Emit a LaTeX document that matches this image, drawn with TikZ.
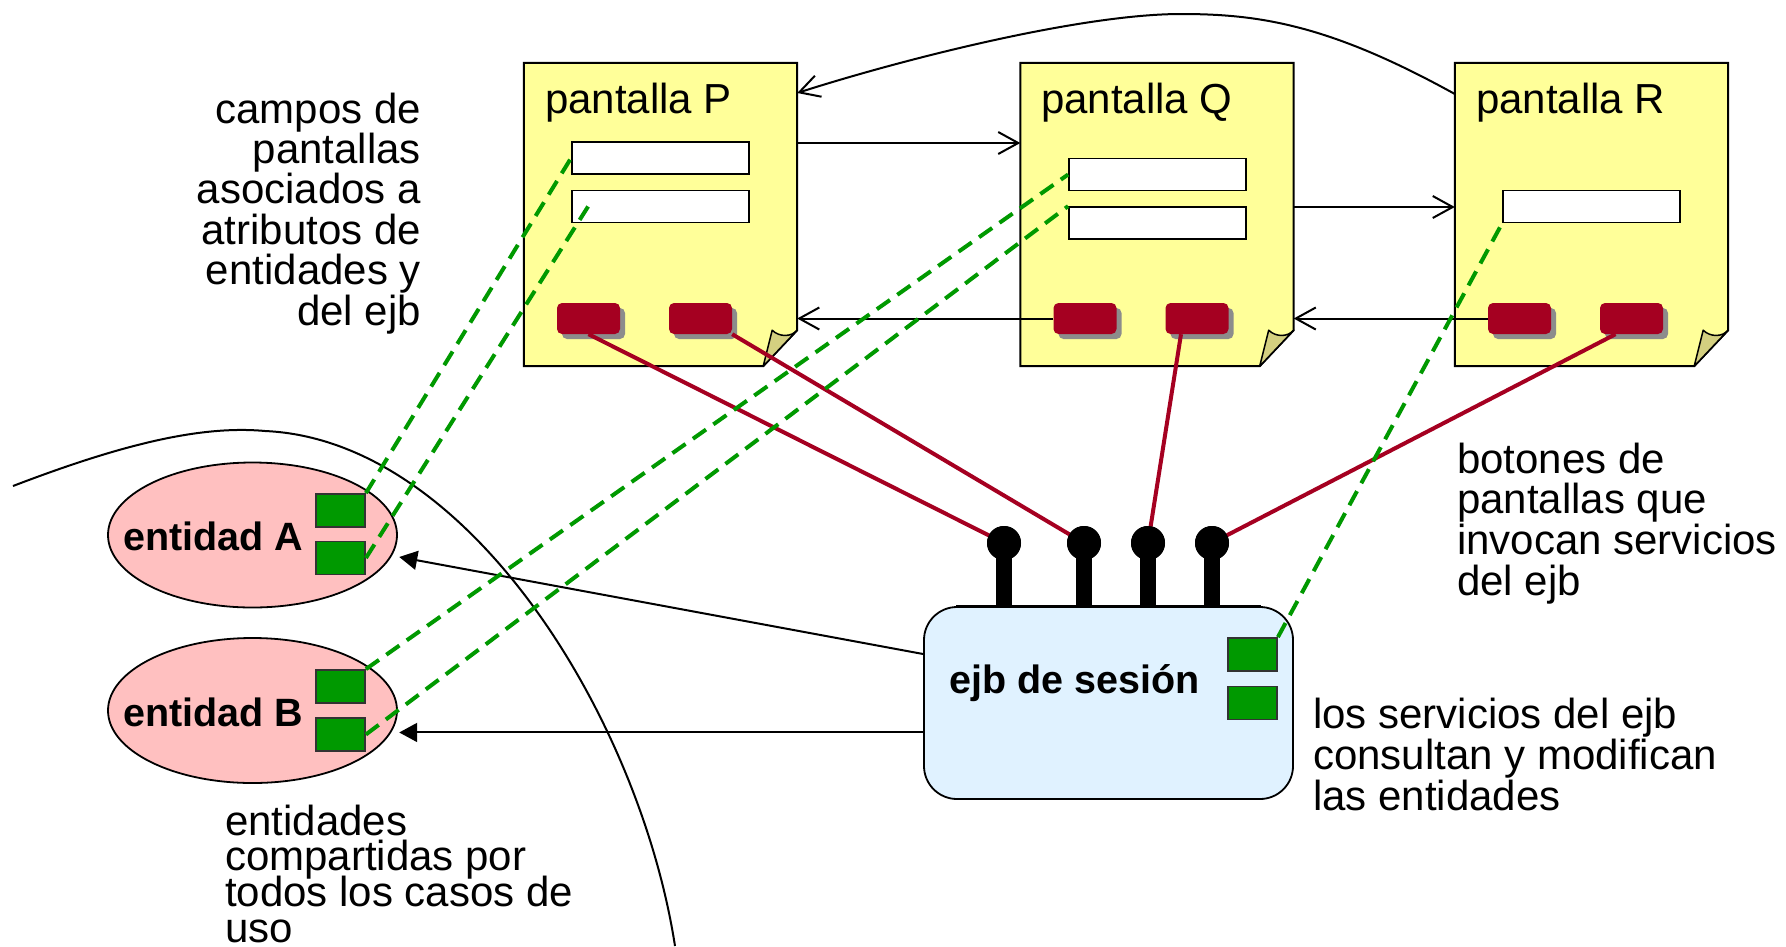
\documentclass[tikz,border=0pt]{standalone}
\usepackage{fontspec}
\setmainfont{Liberation Sans}
\usetikzlibrary{arrows.meta,shadows,shapes.geometric,calc}

\definecolor{notey}{HTML}{FFFF99}
\definecolor{notefold}{HTML}{D4D080}
\definecolor{btnred}{HTML}{A50021}
\definecolor{attrg}{HTML}{009900}
\definecolor{entpink}{HTML}{FFC0C0}
\definecolor{ejbblue}{HTML}{E0F2FF}

% stacked lines with a fixed baseline distance; the box baseline is the first line
\newcommand\rlines[2]{\vtop{\baselineskip=#1\lineskiplimit=-100pt\halign{\hfil##\cr#2\crcr}}}
\newcommand\llines[2]{\vtop{\baselineskip=#1\lineskiplimit=-100pt\halign{##\hfil\cr#2\crcr}}}

\begin{document}
\begin{tikzpicture}[x=1pt,y=-1pt,
  txt/.style={font=\fontsize{42}{42}\selectfont, inner sep=0pt},
  btxt/.style={font=\fontsize{39.5}{40}\selectfont\bfseries, inner sep=0pt},
  screen/.style={minimum width=273pt, minimum height=303pt, inner sep=0pt},
  field/.style={draw=black, line width=1.8pt, fill=white, minimum width=177pt, minimum height=32pt, inner sep=0pt},
  button/.style={fill=btnred, rounded corners=5pt, minimum width=63pt, minimum height=31pt, inner sep=0pt,
    general shadow={shadow xshift=5pt, shadow yshift=-5pt, fill=black!45}},
  attr/.style={draw=black!80, line width=1.8pt, fill=attrg, minimum width=49pt, minimum height=33pt, inner sep=0pt},
  entity/.style={ellipse, draw=black, line width=1.8pt, fill=entpink, minimum width=289pt, minimum height=145pt, inner sep=0pt},
  ejbbox/.style={rectangle, rounded corners=33pt, draw=black, line width=1.8pt, fill=ejbblue, minimum width=369pt, minimum height=192pt, inner sep=0pt},
  knob/.style={circle, fill=black, minimum size=34pt, inner sep=0pt},
  nav/.style={line width=2pt, -{Straight Barb[length=20pt, width=22pt, line width=2pt]}},
  uses/.style={line width=2pt, -{Triangle[length=18pt, width=19pt]}},
  call/.style={btnred, line width=4pt},
  bind/.style={attrg, line width=4pt, dash pattern=on 16pt off 9pt},
]
\useasboundingbox[fill=white] (0,0) rectangle (1786,946);

% boundary of the shared part
\draw[line width=2pt] (13,486) .. controls (120,445) and (200,425) .. (265,431)
  .. controls (470,440) and (640,720) .. (675,946);

% screens with a folded corner
\node[screen] (P) at (660.5,214.5) {};
\node[screen] (Q) at (1157,214.5) {};
\node[screen] (R) at (1591.5,214.5) {};
\foreach \n in {P,Q,R} {
  \filldraw[fill=notey, draw=black, line width=2pt]
    (\n.north west) -- (\n.north east) -- ([yshift=36pt]\n.south east)
    -- ([xshift=-34pt]\n.south east) -- (\n.south west) -- cycle;
  \filldraw[fill=notefold, draw=black, line width=1.5pt, line join=round]
    ([xshift=-34pt]\n.south east) -- ([xshift=-25pt,yshift=36pt]\n.south east)
    .. controls ([xshift=-18pt,yshift=29pt]\n.south east) and ([xshift=-6pt,yshift=29pt]\n.south east)
    .. ([yshift=36pt]\n.south east) -- cycle;
}
\node[txt, anchor=base west] (Pt) at (545,113) {pantalla P};
\node[txt, anchor=base west] (Qt) at (1041,113) {pantalla Q};
\node[txt, anchor=base west] (Rt) at (1476,113) {pantalla R};

% input fields
\node[field] (pf1) at (660.5,158) {};
\node[field] (pf2) at (660.5,206.5) {};
\node[field] (qf1) at (1157.5,174.5) {};
\node[field] (qf2) at (1157.5,223) {};
\node[field] (rf) at (1591.5,206.5) {};

% navigation between screens
\draw[nav] ([yshift=71.5pt]P.east) -- ([yshift=71.5pt]Q.west);
\draw[nav] ([yshift=7.5pt]Q.east) -- ([yshift=7.5pt]R.west);
\draw[nav] ([yshift=120.5pt]R.west) .. controls (1330,25) and (1260,14) .. (1181,14)
  .. controls (1080,14) and (900,60) .. ([yshift=121.5pt]P.east);

% buttons
\node[button] (pb1) at (588.5,318.5) {};
\node[button] (pb2) at (700.5,318.5) {};
\node[button] (qb1) at (1085,318.5) {};
\node[button] (qb2) at (1197,318.5) {};
\node[button] (rb1) at (1519.5,318.5) {};
\node[button] (rb2) at (1631.5,318.5) {};
\draw[nav] (qb1.west) -- (P.east |- qb1.west);
\draw[nav] (rb1.west) -- (Q.east |- rb1.west);

% session bean with its service knobs
\node[knob] (k1) at (1004,543) {};
\node[knob] (k2) at (1084,543) {};
\node[knob] (k3) at (1148,543) {};
\node[knob] (k4) at (1212,543) {};
\draw[call] (pb1.south) -- (k1.center);
\draw[call] (pb2.south east) -- (k2.center);
\draw[call] ([xshift=-16pt]qb2.south) -- (k3.center);
\draw[call] ([xshift=-16pt]rb2.south) -- (k4.center);
\node[ejbbox] (ejb) at (1108.5,703) {};
\foreach \k in {k1,k2,k3,k4} {
  \draw[line width=16pt] (\k.center) -- (\k |- ejb.north);
  \node[knob] at (\k) {};
}
\draw[line width=1.8pt] ([xshift=-33pt]ejb.north east) -- ([xshift=33pt]ejb.north west);
\node[btxt, anchor=base west] (ejbt) at (949,693) {ejb de sesión};
\node[attr] (s1) at (1252.5,654.5) {};
\node[attr] (s2) at (1252.5,703) {};

% entities
\node[entity] (ea) at (252.5,535) {};
\node[entity] (eb) at (252.5,710.5) {};
\node[btxt, anchor=base west] (eat) at (123,550) {entidad A};
\node[btxt, anchor=base west] (ebt) at (123,726) {entidad B};
\node[attr] (a1) at (340.5,510.5) {};
\node[attr] (a2) at (340.5,558) {};
\node[attr] (b1) at (340.5,686.5) {};
\node[attr] (b2) at (340.5,734.5) {};

\coordinate (ta) at ([xshift=8pt]ea.-9);
\coordinate (tb) at ([xshift=8pt]eb.-9);
\draw[uses] ([yshift=49pt]ejb.west) -- (ta);
\draw[uses] (ejb.west |- tb) -- (tb);

% field to attribute bindings
\draw[bind] (a1.north east) -- (pf1.west);
\draw[bind] (a2.east) -- ([xshift=17pt]pf2.west);
\draw[bind] (b1.north east) -- (qf1.west);
\draw[bind] (b2.east) -- (qf2.north west);
\draw[bind] (s1.north east) -- (rf.south west);

% notes
\node[txt, anchor=base east] (camp) at (421,123)
  {\rlines{40.4pt}{campos de\cr pantallas\cr asociados a\cr atributos de\cr entidades y\cr del ejb}};
\node[txt, anchor=base west] (bot) at (1457,473)
  {\llines{40.7pt}{botones de\cr pantallas que\cr invocan servicios\cr del ejb}};
\node[txt, anchor=base west] (serv) at (1313,728)
  {\llines{41pt}{los servicios del ejb\cr consultan y modifican\cr las entidades}};
\node[txt, anchor=base west] (shared) at (225,835)
  {\llines{35.7pt}{entidades\cr compartidas por\cr todos los casos de\cr uso}};
\end{tikzpicture}
\end{document}
